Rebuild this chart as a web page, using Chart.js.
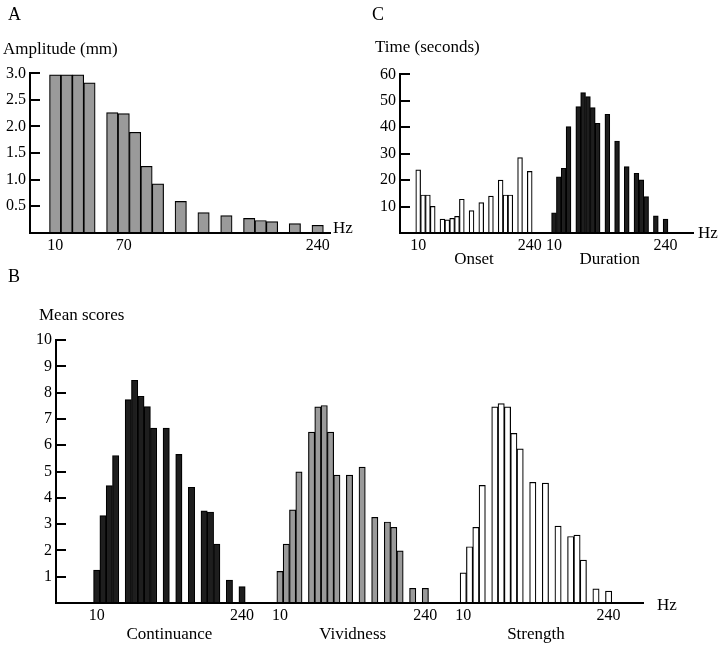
<!DOCTYPE html>
<html><head><meta charset="utf-8">
<script src="https://cdn.jsdelivr.net/npm/chart.js@4.4.1/dist/chart.umd.min.js"></script>
<style>
html,body{margin:0;padding:0;background:#fff;}
#wrap{position:relative;width:720px;height:648px;overflow:hidden;background:#fff;}
canvas{position:absolute;left:0;top:0;}
</style></head><body>
<div id="wrap">
<canvas id="cA" width="720" height="648"></canvas>
<canvas id="cB" width="720" height="648"></canvas>
<canvas id="cC" width="720" height="648"></canvas>
</div>
<script>
// ---------- data ----------
const frequencies = [10,20,30,40,60,70,80,90,100,120,140,160,180,190,200,220,240];
const amplitudeMm = [2.97,2.97,2.97,2.82,2.26,2.24,1.89,1.25,0.92,0.59,0.38,0.32,0.27,0.23,0.21,0.17,0.14];
const onsetSeconds = [23.9,14.4,14.4,10.1,5.3,5.0,5.6,6.3,12.8,8.5,11.5,14.0,20.0,14.4,14.4,28.5,23.3];
const durationSeconds = [7.7,21.3,24.5,40.2,47.8,53.1,51.6,47.4,41.5,44.9,34.8,25.1,22.6,20.1,13.8,6.5,5.3];
const continuanceScores = [1.25,3.32,4.46,5.61,7.73,8.47,7.86,7.47,6.65,6.65,5.65,4.40,3.50,3.46,2.24,0.87,0.62];
const vividnessScores = [1.20,2.24,3.54,4.99,6.50,7.46,7.51,6.50,4.86,4.86,5.17,3.26,3.08,2.88,1.98,0.56,0.56];
const strengthScores = [1.15,2.14,2.88,4.47,7.46,7.58,7.46,6.45,5.86,4.59,4.56,2.92,2.53,2.58,1.63,0.54,0.45];
const amplitudeTicks = [0.5,1.0,1.5,2.0,2.5,3.0];
const timeTicks = [10,20,30,40,50,60];
const scoreTicks = [1,2,3,4,5,6,7,8,9,10];
const hzTicksA = [10,70,240];
const hzTicksGroup = [10,240];
const groupNamesC = ['Onset','Duration'];
const groupNamesB = ['Continuance','Vividness','Strength'];

// ---------- layout / style ----------
const FONT = "'Liberation Serif','Times New Roman',serif";
Chart.defaults.font.family = FONT;
Chart.defaults.font.size = 16;
Chart.defaults.color = '#000';
const GRAY = '#9a9a9a', DARK = '#1e1e1e', WHITE = '#ffffff';

const inwardTicks = {
  id: 'inwardTicks',
  afterDatasetsDraw(chart) {
    const ys = chart.scales.y, ctx = chart.ctx, left = chart.chartArea.left;
    ctx.save(); ctx.strokeStyle = '#000'; ctx.lineWidth = 2;
    ys.ticks.forEach(t => {
      const py = Math.round(ys.getPixelForValue(t.value));
      ctx.beginPath(); ctx.moveTo(left, py); ctx.lineTo(left + 10, py); ctx.stroke();
    });
    ctx.restore();
  }
};
const panelText = {
  id: 'panelText',
  afterDraw(chart, args, opts) {
    const ctx = chart.ctx;
    ctx.save(); ctx.fillStyle = '#000'; ctx.textBaseline = 'alphabetic';
    (opts.texts || []).forEach(t => {
      ctx.font = t.size + 'px ' + FONT; ctx.textAlign = t.align || 'left';
      ctx.fillText(t.text, t.x, t.y);
    });
    const xs = chart.scales.x;
    (opts.groups || []).forEach(g => {
      ctx.font = opts.groupSize + 'px ' + FONT; ctx.textAlign = 'center';
      const cx = (xs.getPixelForValue(g.offset + frequencies[0]) + xs.getPixelForValue(g.offset + frequencies[frequencies.length - 1])) / 2;
      ctx.fillText(g.name, cx, opts.groupY);
    });
    ctx.restore();
  }
};

function makePanel(id, p) {
  const Y_W = 30, X_H = 30;
  const xTickList = [];
  p.groups.forEach(g => p.xTicks.forEach(v => xTickList.push({ value: v + g.offset, label: String(v) })));
  const datasets = p.series.map((s, k) => ({
    data: frequencies.map((f, i) => ({ x: f + p.groups[k].offset, y: s.values[i] })),
    backgroundColor: s.color,
    borderColor: '#000',
    borderWidth: 1.2,
    grouped: false,
    barPercentage: 1,
    categoryPercentage: 1
  }));
  new Chart(document.getElementById(id), {
    type: 'bar',
    data: { datasets },
    options: {
      responsive: false, animation: false, devicePixelRatio: 1,
      layout: {
        autoPadding: false,
        padding: { left: p.area.left - Y_W, top: p.area.top, right: 720 - p.area.right, bottom: 648 - X_H - p.area.bottom }
      },
      plugins: {
        legend: { display: false }, tooltip: { enabled: false },
        panelText: { texts: p.texts, groups: p.groupLabels ? p.groups.map((g, k) => ({ name: p.groupLabels[k], offset: g.offset })) : [], groupY: p.groupY, groupSize: 17 }
      },
      scales: {
        x: {
          type: 'linear', min: p.xMin, max: p.xMax, offset: false,
          grid: { display: false, drawTicks: false },
          border: { display: true, color: '#000', width: 2, z: 1 },
          afterBuildTicks: sc => { sc.ticks = xTickList.map(t => ({ value: t.value })); },
          afterFit: sc => { sc.height = X_H; },
          ticks: { autoSkip: false, maxRotation: 0, padding: 3, font: { size: 16 }, callback: (v, i) => xTickList[i] ? xTickList[i].label : '' }
        },
        y: {
          type: 'linear', min: 0, max: p.yMax,
          grid: { display: false, drawTicks: false },
          border: { display: true, color: '#000', width: 2, z: 1 },
          afterBuildTicks: sc => { sc.ticks = p.yTicks.map(v => ({ value: v })); },
          afterFit: sc => { sc.width = Y_W; },
          ticks: { autoSkip: false, padding: 4, font: { size: 16 }, callback: p.yFmt }
        }
      }
    },
    plugins: [inwardTicks, panelText]
  });
}

makePanel('cA', {
  area: { left: 30, right: 330, top: 73.3, bottom: 232.7 },
  xMin: -12.1, xMax: 250.8, yMax: 3.0,
  yTicks: amplitudeTicks, yFmt: v => Number(v).toFixed(1),
  xTicks: hzTicksA,
  groups: [{ offset: 0 }],
  series: [{ values: amplitudeMm, color: GRAY }],
  texts: [
    { text: 'A', x: 8, y: 20, size: 18 },
    { text: 'Amplitude (mm)', x: 3, y: 53.5, size: 17 },
    { text: 'Hz', x: 333, y: 233, size: 17 }
  ]
});

makePanel('cC', {
  area: { left: 400, right: 693, top: 74.3, bottom: 233.1 },
  xMin: -27.5, xMax: 576.6, yMax: 60,
  yTicks: timeTicks, yFmt: v => String(v),
  xTicks: hzTicksGroup,
  groups: [{ offset: 0 }, { offset: 280 }],
  groupLabels: groupNamesC, groupY: 264,
  series: [{ values: onsetSeconds, color: WHITE }, { values: durationSeconds, color: DARK }],
  texts: [
    { text: 'C', x: 372, y: 19.5, size: 18 },
    { text: 'Time (seconds)', x: 375, y: 52, size: 17 },
    { text: 'Hz', x: 698, y: 238, size: 17 }
  ]
});

makePanel('cB', {
  area: { left: 56, right: 643, top: 340, bottom: 603 },
  xMin: -54.4, xMax: 874.4, yMax: 10,
  yTicks: scoreTicks, yFmt: v => String(v),
  xTicks: hzTicksGroup,
  groups: [{ offset: 0 }, { offset: 290 }, { offset: 580 }],
  groupLabels: groupNamesB, groupY: 639,
  series: [{ values: continuanceScores, color: DARK }, { values: vividnessScores, color: GRAY }, { values: strengthScores, color: WHITE }],
  texts: [
    { text: 'B', x: 8, y: 282, size: 18 },
    { text: 'Mean scores', x: 39, y: 320, size: 17 },
    { text: 'Hz', x: 657, y: 610, size: 17 }
  ]
});
</script>
</body></html>
